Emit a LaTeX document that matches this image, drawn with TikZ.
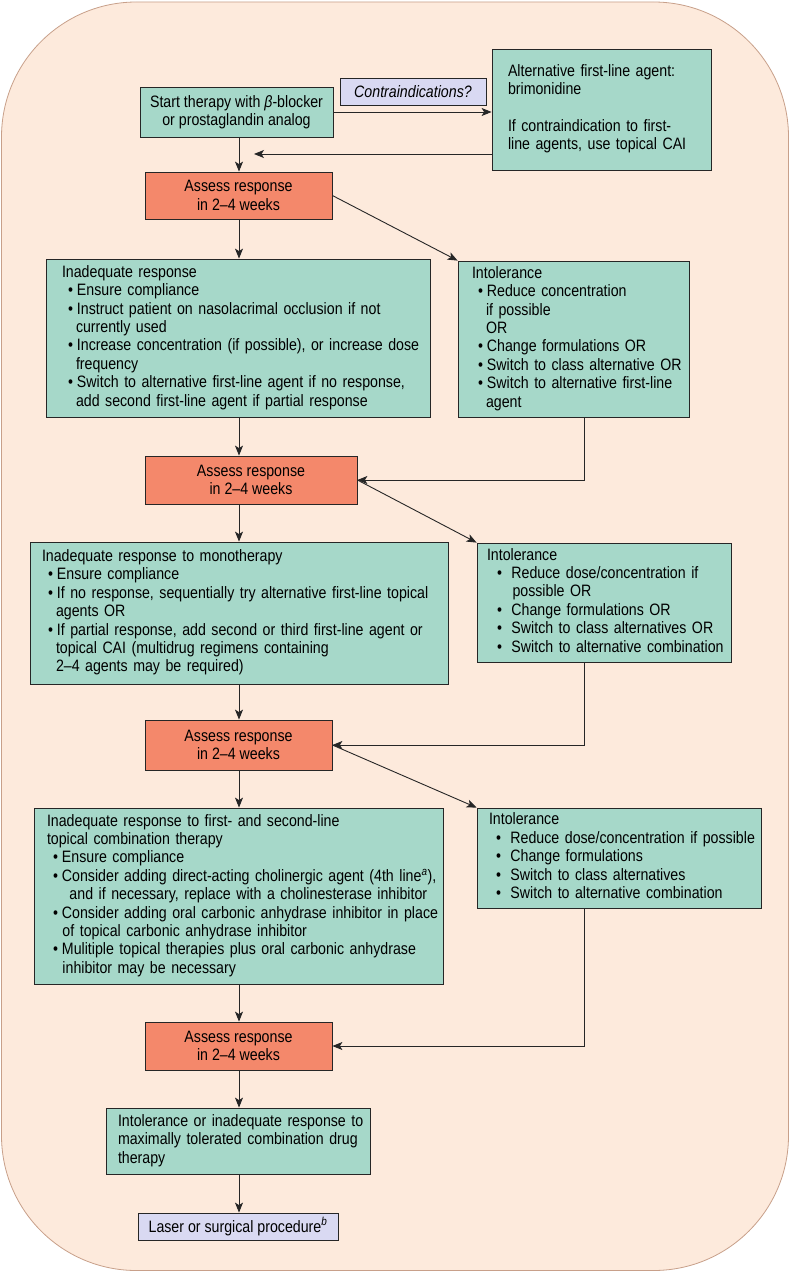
\documentclass[tikz,border=0pt]{standalone}
\usepackage{fontspec}
\setmainfont[FakeStretch=0.86]{Liberation Sans}
\usetikzlibrary{arrows.meta}
\definecolor{peach}{RGB}{253,234,220}
\definecolor{peachline}{RGB}{200,160,138}
\definecolor{tealc}{RGB}{166,216,201}
\definecolor{salm}{RGB}{244,136,107}
\definecolor{lav}{RGB}{217,217,242}
\newcommand\myfs{\fontsize{16.5}{18.4}\selectfont}
\newcommand\bl[1][6pt]{\hspace*{#1}\textbullet\hspace{4pt}}
\newcommand\cl[1][14pt]{\hspace*{#1}}
\newcommand\tl[1]{\begin{tabular}{@{}l@{}}#1\end{tabular}}
\begin{document}
\begin{tikzpicture}[x=1pt,y=-1pt,
  every node/.style={font=\myfs, text=black},
  bx/.style={draw=black!85, line width=0.8pt, inner sep=0pt},
  tb/.style={bx, fill=tealc},
  sb/.style={bx, fill=salm, align=center},
  lb/.style={bx, fill=lav, align=center},
  ar/.style={draw=black!85, line width=0.9pt, -{Stealth[length=10pt,width=8pt,inset=2.5pt]}}]
\useasboundingbox (0,0) rectangle (791,1273);
\fill[white] (0,0) rectangle (791,1273);
\draw[fill=peach, draw=peachline, line width=0.8pt, rounded corners=135] (1.5,2) rectangle (788.5,1270.5);

% nodes
\node[tb, align=center, minimum width=193, minimum height=50] (start) at (236.5,112) {Start therapy with \textit{β}-blocker\\or prostaglandin analog};
\node[lb, minimum width=146, minimum height=27] (contra) at (413,91.5) {\textit{Contraindications?}};
\node[tb, minimum width=219, minimum height=121, inner xsep=16pt, text width=187pt] (alt) at (601.5,109.5)
  {\tl{Alternative first-line agent:\\brimonidine\\ \\If contraindication to first-\\line agents, use topical CAI}};
\node[sb, minimum width=187, minimum height=47] (as1) at (238.5,195.5) {Assess response\\in 2–4 weeks};
\node[tb, minimum width=384, minimum height=158, inner xsep=16pt, text width=352pt] (inad1) at (238,338)
  {\tl{Inadequate response\\
  \bl Ensure compliance\\
  \bl Instruct patient on nasolacrimal occlusion if not\\
  \cl currently used\\
  \bl Increase concentration (if possible), or increase dose\\
  \cl frequency\\
  \bl Switch to alternative first-line agent if no response,\\
  \cl add second first-line agent if partial response}};
\node[tb, minimum width=231, minimum height=156, inner xsep=14pt, text width=203pt] (int1) at (573.5,339)
  {\tl{Intolerance\\
  \bl Reduce concentration\\
  \cl if possible\\
  \cl OR\\
  \bl Change formulations OR\\
  \bl Switch to class alternative OR\\
  \bl Switch to alternative first-line\\
  \cl agent}};
\node[sb, minimum width=212, minimum height=48] (as2) at (251,480) {Assess response\\in 2–4 weeks};
\node[tb, minimum width=418, minimum height=142, inner xsep=12pt, text width=394pt] (inad2) at (239,613)
  {\tl{Inadequate response to monotherapy\\
  \bl Ensure compliance\\
  \bl If no response, sequentially try alternative first-line topical\\
  \cl agents OR\\
  \bl If partial response, add second or third first-line agent or\\
  \cl topical CAI (multidrug regimens containing\\
  \cl 2–4 agents may be required)}};
\node[tb, minimum width=254, minimum height=119, inner xsep=10pt, text width=234pt] (int2) at (604,602.5)
  {\tl{Intolerance\\
  \bl[10pt] Reduce dose/concentration if\\
  \cl[20pt] possible OR\\
  \bl[10pt] Change formulations OR\\
  \bl[10pt] Switch to class alternatives OR\\
  \bl[10pt] Switch to alternative combination}};
\node[sb, minimum width=187, minimum height=50] (as3) at (238.5,745) {Assess response\\in 2–4 weeks};
\node[tb, minimum width=409, minimum height=176, inner xsep=13pt, text width=383pt] (inad3) at (238.5,896)
  {\tl{Inadequate response to first- and second-line\\
  topical combination therapy\\
  \bl Ensure compliance\\
  \bl Consider adding direct-acting cholinergic agent (4th line\textsuperscript{\textit{a}}),\\
  \cl[17pt] and if necessary, replace with a cholinesterase inhibitor\\
  \bl Consider adding oral carbonic anhydrase inhibitor in place\\
  \cl[10pt] of topical carbonic anhydrase inhibitor\\
  \bl Mulitiple topical therapies plus oral carbonic anhydrase\\
  \cl[10pt] inhibitor may be necessary}};
\node[tb, minimum width=284, minimum height=100, inner xsep=12pt, text width=260pt] (int3) at (619,858)
  {\tl{Intolerance\\
  \bl[7pt] Reduce dose/concentration if possible\\
  \bl[7pt] Change formulations\\
  \bl[7pt] Switch to class alternatives\\
  \bl[7pt] Switch to alternative combination}};
\node[sb, minimum width=187, minimum height=48] (as4) at (238.5,1046) {Assess response\\in 2–4 weeks};
\node[tb, minimum width=264, minimum height=66, inner xsep=12pt, text width=240pt] (final) at (238,1141)
  {\tl{Intolerance or inadequate response to\\maximally tolerated combination drug\\therapy}};
\node[lb, minimum width=200, minimum height=27] (laser) at (238,1226.5) {Laser or surgical procedure\textsuperscript{\textit{b}}};

% helper coordinates
\coordinate (axis) at (239,0);
\coordinate (k) at (584,0);
\coordinate (ret) at (254,154);

% connectors
\draw[ar] (start.east) -- (start.east -| alt.west);
\draw[ar] (alt.west |- ret) -- (ret);
\draw[ar] (start.south -| axis) -- (as1.north -| axis);
\draw[ar] (as1.south -| axis) -- (inad1.north -| axis);
\draw[ar] (as1.east) -- (int1.north west);
\draw[ar] (inad1.south -| axis) -- (as2.north -| axis);
\draw[ar] (int1.south -| k) |- (as2.east);
\draw[ar] (as2.south -| axis) -- (inad2.north -| axis);
\draw[ar] (as2.east) -- (int2.north west);
\draw[ar] (inad2.south -| axis) -- (as3.north -| axis);
\draw[ar] (int2.south -| k) |- (as3.east);
\draw[ar] (as3.south -| axis) -- (inad3.north -| axis);
\draw[ar] (as3.east) -- (int3.north west);
\draw[ar] (inad3.south -| axis) -- (as4.north -| axis);
\draw[ar] (int3.south -| k) |- (as4.east);
\draw[ar] (as4.south -| axis) -- (final.north -| axis);
\draw[ar] (final.south -| axis) -- (laser.north -| axis);
\end{tikzpicture}
\end{document}
